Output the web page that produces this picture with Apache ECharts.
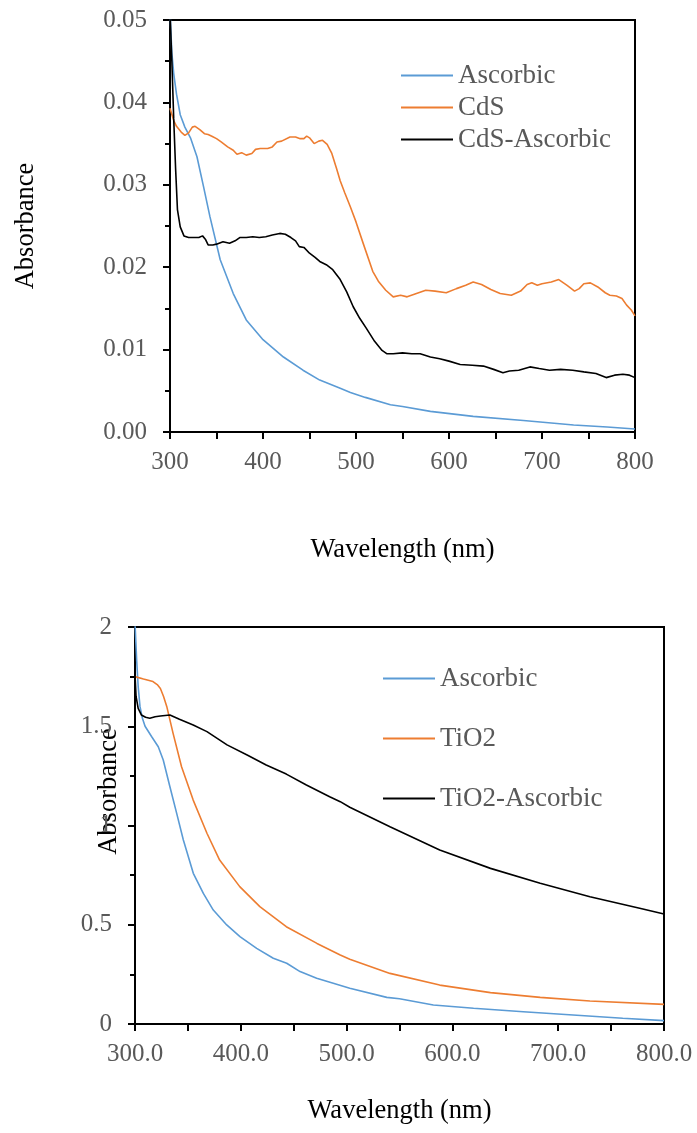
<!DOCTYPE html>
<html style="height: 100%">
<head>
  <meta charset="utf-8">
</head>
<body style="height: 100%; margin: 0; background: #fff">
  <div id="container" style="width: 697px; height: 1133px"></div>
  <script src="https://cdn.jsdelivr.net/npm/echarts@6/dist/echarts.min.js"></script>
  <script>
// ---- top panel: CdS ----
const ascTopWl = [300, 302, 304, 307, 311, 316, 322, 329, 336, 343, 354, 368, 382, 400, 422, 443, 461, 483, 494, 510, 537, 550, 580, 626, 680, 734, 770, 800];
const ascTopAbs = [0.051, 0.046, 0.0435, 0.041, 0.0385, 0.037, 0.0357, 0.0334, 0.0298, 0.0261, 0.0209, 0.0168, 0.0136, 0.0112, 0.0091, 0.0075, 0.0063, 0.0053, 0.0048, 0.0042, 0.0033, 0.0031, 0.0025, 0.0019, 0.0014, 0.00085, 0.0006, 0.00036];

const cdsWl = [300, 304, 307, 312, 316, 320, 324, 327, 332, 337, 341, 345, 350, 355, 362, 368, 372, 377, 382, 388, 392, 397, 405, 410, 415, 420, 429, 435, 440, 444, 447, 450, 455, 460, 464, 469, 474, 479, 483, 488, 494, 500, 508, 518, 524, 532, 540, 548, 555, 565, 575, 585, 597, 608, 618, 626, 635, 645, 655, 667, 677, 684, 689, 695, 700, 710, 718, 727, 735, 740, 745, 752, 760, 768, 773, 780, 786, 791, 796, 800];
const cdsAbs = [0.0393, 0.0378, 0.0371, 0.0364, 0.036, 0.0363, 0.037, 0.0371, 0.0367, 0.0362, 0.0361, 0.0359, 0.0356, 0.0352, 0.0346, 0.0342, 0.0337, 0.0339, 0.0336, 0.0338, 0.0343, 0.0344, 0.0344, 0.0346, 0.0352, 0.0353, 0.0358, 0.0358, 0.0356, 0.0356, 0.0359, 0.0357, 0.035, 0.0353, 0.0354, 0.0349, 0.0338, 0.032, 0.0305, 0.029, 0.0273, 0.0255, 0.0228, 0.0195, 0.0183, 0.0172, 0.0164, 0.0166, 0.0164, 0.0168, 0.0172, 0.0171, 0.0169, 0.0174, 0.0178, 0.0182, 0.0179, 0.0173, 0.0168, 0.0166, 0.0171, 0.0179, 0.0181, 0.0178, 0.018, 0.0182, 0.0185, 0.0178, 0.0171, 0.0174, 0.018, 0.0181, 0.0176, 0.0169, 0.0166, 0.0165, 0.0162, 0.0154, 0.0148, 0.0141];

const cdsAscWl = [300, 302, 304, 306, 308, 311, 315, 320, 326, 331, 335, 338, 341, 346, 350, 357, 364, 370, 375, 382, 389, 396, 403, 410, 418, 424, 430, 435, 439, 444, 450, 456, 461, 468, 475, 483, 490, 497, 504, 511, 520, 528, 533, 540, 550, 560, 569, 580, 590, 600, 612, 625, 637, 648, 658, 665, 675, 687, 697, 708, 720, 733, 745, 758, 769, 778, 787, 794, 800];
const cdsAscAbs = [0.051, 0.045, 0.038, 0.032, 0.027, 0.0249, 0.0238, 0.0236, 0.0236, 0.0236, 0.0238, 0.0234, 0.0227, 0.0227, 0.0228, 0.0231, 0.0229, 0.0232, 0.0236, 0.0236, 0.0237, 0.0236, 0.0237, 0.0239, 0.0241, 0.024, 0.0236, 0.0232, 0.0225, 0.0224, 0.0217, 0.0212, 0.0207, 0.0203, 0.0197, 0.0185, 0.017, 0.0152, 0.0138, 0.0126, 0.011, 0.0099, 0.0095, 0.0095, 0.0096, 0.0095, 0.0095, 0.0091, 0.0089, 0.0086, 0.0082, 0.0081, 0.008, 0.0076, 0.0072, 0.0074, 0.0075, 0.0079, 0.0077, 0.0075, 0.0076, 0.0075, 0.0073, 0.0071, 0.0066, 0.0069, 0.007, 0.0069, 0.0066];

// ---- bottom panel: TiO2 ----
const ascBotWl = [300, 301.6, 303, 304.7, 307, 309.5, 315.8, 322, 326.7, 333, 339.4, 345.7, 355.1, 364.6, 374, 386.7, 399.2, 415, 430.7, 443.4, 456, 471.7, 487.4, 503, 538, 550, 582, 620, 667, 714, 761, 800];
const ascBotAbs = [2.02, 1.83, 1.7, 1.6, 1.54, 1.5, 1.447, 1.397, 1.33, 1.195, 1.061, 0.927, 0.759, 0.658, 0.574, 0.499, 0.44, 0.381, 0.331, 0.306, 0.264, 0.23, 0.205, 0.18, 0.134, 0.127, 0.096, 0.079, 0.062, 0.045, 0.029, 0.017];

const tio2Wl = [300, 308, 317, 321, 324, 327, 330, 336, 344, 355, 368, 380, 399, 418, 443, 472, 494, 503, 541, 588, 636, 683, 730, 800];
const tio2Abs = [1.75, 1.738, 1.725, 1.71, 1.69, 1.65, 1.6, 1.464, 1.296, 1.128, 0.961, 0.826, 0.692, 0.591, 0.49, 0.406, 0.348, 0.326, 0.255, 0.196, 0.158, 0.134, 0.116, 0.099];

const tio2AscWl = [300, 301, 303, 306, 310, 314, 319, 324, 333, 342, 355, 368, 387, 406, 424, 443, 462, 484, 494, 503, 541, 588, 636, 683, 730, 777, 800];
const tio2AscAbs = [1.76, 1.65, 1.59, 1.557, 1.545, 1.54, 1.548, 1.552, 1.557, 1.535, 1.506, 1.473, 1.406, 1.355, 1.305, 1.259, 1.204, 1.145, 1.12, 1.092, 0.994, 0.877, 0.784, 0.709, 0.641, 0.583, 0.554];

const legendTop = ['Ascorbic', 'CdS', 'CdS-Ascorbic'];
const legendBot = ['Ascorbic', 'TiO2', 'TiO2-Ascorbic'];

function zip(xs, ys) {
  return xs.map(function (x, i) { return [x, ys[i]]; });
}

const FONT = 'Liberation Serif';
const GRAY = '#595959';
const BLUE = '#5B9BD5';
const ORANGE = '#ED7D31';

function xAxisFor(gridIndex, fmt, gap) {
  return {
    type: 'value', gridIndex: gridIndex, min: 300, max: 800, interval: 100,
    name: 'Wavelength (nm)', nameLocation: 'middle', nameGap: gap, nameMoveOverlap: false,
    nameTextStyle: { fontFamily: FONT, fontSize: 26.5, color: '#000' },
    axisLine: { lineStyle: { color: '#000', width: 2 } },
    axisTick: { show: true, length: 7, lineStyle: { color: '#000', width: 2 } },
    minorTick: { show: true, splitNumber: 2, length: 7, lineStyle: { color: '#000', width: 2 } },
    axisLabel: { fontFamily: FONT, fontSize: 25, color: GRAY, margin: 18, formatter: fmt },
    splitLine: { show: false }
  };
}
function yAxisFor(gridIndex, max, interval, fmt, gap, shiftUp) {
  return {
    type: 'value', gridIndex: gridIndex, min: 0, max: max, interval: interval,
    name: 'Absorbance', nameLocation: 'middle', nameRotate: 90, nameGap: gap, nameMoveOverlap: false,
    nameTextStyle: { fontFamily: FONT, fontSize: 26.5, color: '#000', padding: [0, 0, 0, shiftUp * 2] },
    axisLine: { show: true, lineStyle: { color: '#000', width: 2 } },
    axisTick: { show: true, length: 7, lineStyle: { color: '#000', width: 2 } },
    minorTick: { show: true, splitNumber: 2, length: 5, lineStyle: { color: '#000', width: 2 } },
    axisLabel: { fontFamily: FONT, fontSize: 25, color: GRAY, margin: 23, formatter: fmt },
    splitLine: { show: false }
  };
}
function lineSeries(name, data, color, xi) {
  return {
    name: name, type: 'line', xAxisIndex: xi, yAxisIndex: xi,
    data: data, showSymbol: false, symbol: 'none', clip: true,
    lineStyle: { color: color, width: 1.6 }, itemStyle: { color: color }
  };
}
function legendFor(names, left, top, gap) {
  return {
    data: names, orient: 'vertical', left: left, top: top,
    icon: 'rect', itemWidth: 52, itemHeight: 2, itemGap: gap,
    textStyle: { fontFamily: FONT, fontSize: 27, color: GRAY, lineHeight: 26 }
  };
}

var chart = echarts.init(document.getElementById('container'), null, { renderer: 'canvas' });
var option = {
  backgroundColor: '#fff',
  animation: false,
  grid: [
    { left: 170, right: 62, top: 20, height: 412, show: true, borderColor: '#000', borderWidth: 2 },
    { left: 135, right: 33, top: 627, height: 397, show: true, borderColor: '#000', borderWidth: 2 }
  ],
  legend: [
    legendFor(legendTop, 396, 57, 5),
    legendFor(legendBot, 378, 660, 33)
  ],
  xAxis: [
    xAxisFor(0, function (v) { return String(v); }, 105),
    xAxisFor(1, function (v) { return v.toFixed(1); }, 74)
  ],
  yAxis: [
    yAxisFor(0, 0.05, 0.01, function (v) { return v.toFixed(2); }, 130, 0),
    yAxisFor(1, 2, 0.5, function (v) { return String(v); }, 12, 34)
  ],
  series: [
    lineSeries('Ascorbic', zip(ascTopWl, ascTopAbs), BLUE, 0),
    lineSeries('CdS', zip(cdsWl, cdsAbs), ORANGE, 0),
    lineSeries('CdS-Ascorbic', zip(cdsAscWl, cdsAscAbs), '#000', 0),
    lineSeries('Ascorbic', zip(ascBotWl, ascBotAbs), BLUE, 1),
    lineSeries('TiO2', zip(tio2Wl, tio2Abs), ORANGE, 1),
    lineSeries('TiO2-Ascorbic', zip(tio2AscWl, tio2AscAbs), '#000', 1)
  ]
};
chart.setOption(option);
  </script>
</body>
</html>
